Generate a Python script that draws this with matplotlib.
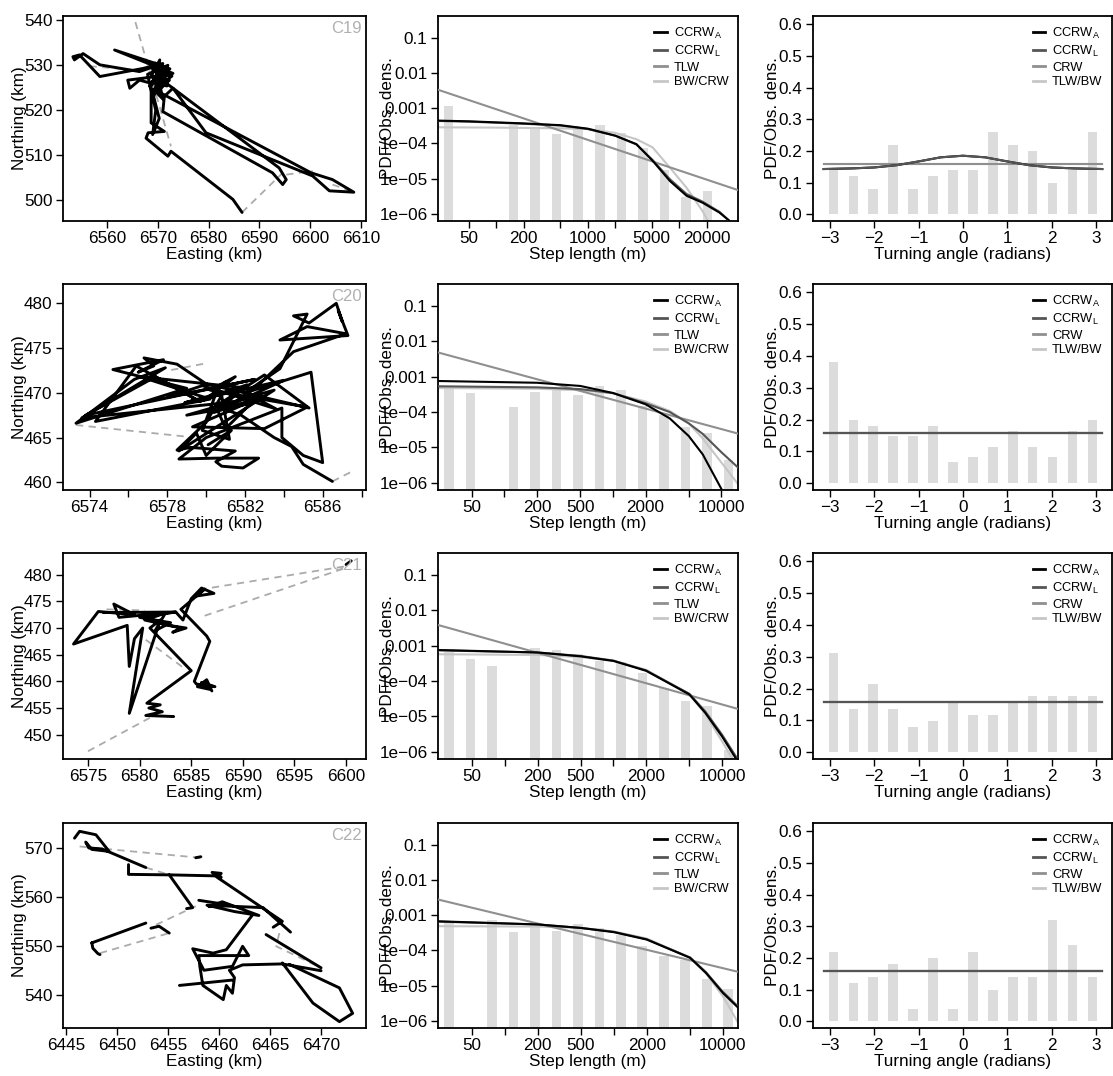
import numpy as np
import matplotlib
matplotlib.use('Agg')
import matplotlib.pyplot as plt
from matplotlib.ticker import NullLocator
from matplotlib.lines import Line2D

plt.rcParams['font.family'] = ['Liberation Sans', 'DejaVu Sans']
plt.rcParams['mathtext.default'] = 'regular'
plt.rcParams['axes.unicode_minus'] = True

NaN = np.nan
animals = ['C19', 'C20', 'C21', 'C22']

# ---------------- tracks (Easting km, Northing km) ----------------
c19_track = [(6586.6,497.3),(6584.8,500.2),(6572.6,510.9),(6572.0,509.8),(6567.7,513.8),(6568.1,515.0),
             (6571.3,515.3),(6568.7,517.2),(6568.7,521.6),(6568.7,526.0),(6566.4,526.7),(6564.5,524.9),
             (6564.1,526.7),(6569.7,527.5),(6573.0,528.2),(6561.5,533.4),(6570.4,530.1),(6566.4,528.6),
             (6558.6,530.1),(6555.3,532.6),(6553.6,531.2),(6553.3,531.9),(6554.6,532.3),(6558.6,527.5),
             (6567.1,529.3),(6571.0,530.4),(6568.4,525.3),(6572.0,528.6),(6569.4,523.8),(6570.4,531.2),
             (6568.7,527.5),(6572.3,526.7),(6570.0,524.2),(6600.2,506.1),(6604.4,504.6),(6608.6,501.8),
             (6603.8,502.1),(6600.5,505.4),(6579.5,515.0),(6573.0,524.9),(6571.3,523.1),(6571.0,519.7),
             (6592.6,506.1),(6594.6,503.5),(6595.3,504.6),(6593.9,507.2),(6571.7,526.0),(6569.7,528.6),
             (6571.7,529.7),(6569.0,529.0),(6571.5,527.2),(6569.5,530.5),(6572.4,529.2),(6568.9,526.3),
             (6571.8,525.4),(6570.0,528.0),(6572.8,527.6),(6569.2,524.6),(6571.0,522.5),(6570.2,526.8),
             (6572.0,530.0),(6568.0,528.0),(6569.6,520.0),(6569.0,514.6),(6570.3,518.2),(6569.2,523.0),
             (6570.9,528.9)]
c19_gaps = [[(6565.6,539.6),(6572.6,512.0)], [(6556.6,529.8),(6565.1,529.0)],
            [(6586.6,497.3),(6594.6,506.1)], [(6595.3,505.7),(6600.5,506.5)],
            [(6604.4,503.5),(6608.6,501.8)]]

c20_track = [(6586.5,460.1),(6585.0,462.0),(6584.4,464.0),(6583.5,465.0),(6581.8,467.5),(6580.5,468.5),
             (6583.0,472.0),(6585.3,468.3),(6580.0,471.0),(6578.5,473.2),(6576.8,473.9),(6577.3,473.0),
             (6576.5,472.3),(6577.8,473.7),(6575.2,472.6),(6579.0,470.5),(6573.3,466.6),(6576.3,471.5),
             (6577.9,472.8),(6573.6,467.2),(6581.5,469.0),(6582.5,470.5),(6584.5,474.6),(6587.2,476.6),
             (6585.2,477.4),(6583.8,475.9),(6587.3,476.4),(6586.8,479.2),(6587.0,478.0),(6586.7,480.0),
             (6585.3,477.8),(6584.5,478.6),(6585.2,478.8),(6583.8,472.7),(6582.0,470.0),(6585.4,472.3),
             (6586.0,462.2),(6585.0,463.0),(6583.9,465.0),(6583.9,468.3),(6580.0,465.0),(6578.6,462.6),
             (6580.5,462.7),(6582.7,462.7),(6581.9,461.6),(6580.8,461.8),(6580.5,462.3),(6581.5,463.5),
             (6579.2,463.9),(6578.5,463.6),(6580.0,466.7),(6580.8,469.7),(6581.2,464.8),(6579.8,465.8),
             (6580.6,470.5),(6581.0,471.2),(6583.6,468.2),(6579.8,470.8),(6578.0,469.5),(6582.5,471.5),
             (6573.8,467.5),(6577.4,471.8),(6579.7,469.0),(6576.4,473.0),(6574.3,466.8),(6580.2,469.3),
             (6576.6,471.8),(6581.8,470.6),(6578.9,468.9),(6584.0,471.4),(6580.4,467.8),(6582.9,469.6),
             (6579.3,466.2),(6583.0,466.0),(6585.2,468.4),(6580.2,470.3),(6581.5,471.8),(6579.9,469.2),
             (6582.1,470.9),(6580.6,468.0),(6581.0,466.0),(6582.3,468.8),(6579.0,467.5),(6583.5,470.3),
             (6578.6,463.5),(6579.5,465.5),(6580.0,463.0),(6581.3,465.8),(6580.1,464.2)]
c20_gaps = [[(6573.3,466.4),(6579.0,465.1)], [(6578.2,472.55),(6580.0,473.3)],
            [(6586.5,460.1),(6587.5,461.2)]]

c21_track = [(6600.0,481.9),(6600.5,482.6),(NaN,NaN),
             (6583.3,453.4),(6580.6,453.6),(6582.2,454.3),(6580.9,455.0),(6582.0,455.6),(6580.7,455.9),
             (6585.0,462.0),(6581.0,470.0),(6582.0,471.5),(6579.0,454.0),(6580.3,470.0),(6579.5,468.0),
             (6579.0,462.8),(6578.8,470.5),(6573.6,467.0),(6576.0,473.1),(6579.5,472.5),(6577.5,474.5),
             (6578.0,472.0),(6583.5,473.0),(6584.2,471.5),(6585.0,475.5),(6586.0,477.5),(6587.2,476.5),
             (6585.5,476.0),(6586.3,477.3),(6584.0,473.5),(6586.5,468.5),(6586.8,467.5),(6585.3,460.0),
             (6585.5,459.5),(6587.3,459.0),(6586.0,459.8),(6586.8,458.5),(6585.6,459.0),(6586.5,460.3),
             (6587.0,458.2),(NaN,NaN),
             (6576.5,472.9),(6583.5,473.0),(6580.0,472.0),(6583.0,471.0),(6581.5,469.5),(6582.5,472.8),
             (6580.5,471.5),(6584.0,470.0),(6583.2,469.2),(6584.5,470.0),(6582.8,470.5)]
c21_gaps = [[(6575.0,446.9),(6581.6,453.8)], [(6585.8,477.2),(6600.0,481.6)],
            [(6586.3,472.3),(6600.0,481.3)], [(6580.6,467.8),(6584.5,462.2)],
            [(6576.8,473.5),(6580.5,473.3)]]

c22_track = [(6445.8,572.0),(6446.3,573.4),(6447.9,572.7),(6449.2,569.3),(6447.5,569.7),(6446.9,571.2),
             (6447.2,570.0),(6448.5,569.8),(6452.8,566.0),(NaN,NaN),
             (6451.1,566.6),(6451.1,564.6),(6455.1,564.5),(6457.4,557.8),(6456.8,557.6),(NaN,NaN),
             (6455.1,564.5),(6459.5,564.3),(6460.2,564.0),(6459.3,565.0),(6460.2,564.8),(6459.8,564.0),
             (6466.2,555.0),(6465.3,553.8),(NaN,NaN),
             (6458.0,559.3),(6460.5,558.5),(6459.0,558.0),(6460.3,559.0),(6463.9,556.2),(6461.5,557.0),
             (6458.8,558.3),(6464.3,557.8),(6467.0,552.8),(NaN,NaN),
             (6463.3,556.4),(6460.7,549.2),(6459.4,548.5),(6457.4,549.4),(6458.5,545.0),(6461.3,545.8),
             (6462.3,549.9),(6462.9,548.0),(6461.3,548.0),(6458.0,548.0),(6458.1,545.8),(6458.4,541.9),
             (6460.4,539.0),(6460.7,541.9),(6461.3,540.3),(6461.5,543.5),(6461.0,545.0),(6462.3,546.1),
             (6466.2,546.3),(6470.0,544.9),(NaN,NaN),
             (6456.1,541.9),(6461.3,543.0),(NaN,NaN),
             (6466.2,546.5),(6469.2,538.3),(6471.8,534.5),(6473.1,536.2),(6471.8,541.4),(6466.9,546.2),(NaN,NaN),
             (6447.5,550.6),(6452.8,554.65),(NaN,NaN),
             (6447.5,550.6),(6447.6,549.5),(6448.1,548.4),(6448.3,548.2),(NaN,NaN),
             (6453.3,553.6),(6454.1,554.0),(6455.1,552.6),(NaN,NaN),
             (6457.7,568.0),(6458.2,568.2),(NaN,NaN),
             (6464.6,552.3),(6470.0,545.5)]
c22_gaps = [[(6446.3,570.3),(6458.1,568.0)], [(6448.3,548.5),(6455.1,552.6)],
            [(6453.8,554.3),(6457.7,558.1)], [(6465.9,552.6),(6465.6,549.9),(6470.0,545.5)],
            [(6452.8,566.0),(6455.1,564.5)]]

# ---------------- step-length histograms (bin centres in m, density) ----------------
c19_step_bins = [30.1, 51.9, 89.3, 153.8, 264.9, 456.0, 785.2, 1352, 2328, 4009, 6902, 11885, 20464]
c19_step_dens = [1.16e-3, 0, 0, 3.3e-4, 2.8e-4, 1.9e-4, 2.9e-4, 3.3e-4, 2.0e-4, 7.2e-5, 1.7e-5, 3.0e-6, 4.4e-6]
c20_step_bins = [30.9, 48.8, 76.9, 121.3, 191.4, 302.0, 476.4, 751.6, 1186, 1871, 2951, 4656, 7345, 11588]
c20_step_dens = [4.8e-4, 3.5e-4, 0, 1.4e-4, 3.6e-4, 4.3e-4, 3.1e-4, 5.6e-4, 4.3e-4, 1.5e-4, 8.3e-5, 3.8e-5, 2.5e-5, 4.4e-6]
c21_step_bins = [30.6, 48.3, 76.2, 120.2, 189.7, 299.2, 472.1, 744.7, 1175, 1854, 2924, 4613, 7278, 11482]
c21_step_dens = [6.5e-4, 4.2e-4, 2.7e-4, 0, 8.4e-4, 7.6e-4, 5.8e-4, 3.7e-4, 3.5e-4, 1.7e-4, 6.5e-5, 2.8e-5, 2.0e-5, 1.1e-6]
c22_step_bins = [30.8, 48.4, 76.2, 119.9, 188.8, 297.2, 467.7, 736.2, 1159, 1824, 2871, 4519, 7112, 11194]
c22_step_dens = [6.0e-4, 0, 7.6e-4, 3.3e-4, 4.7e-4, 3.5e-4, 5.8e-4, 4.4e-4, 2.8e-4, 1.3e-4, 6.9e-5, 5.2e-5, 1.5e-5, 8.1e-6]

# ---------------- fitted step-length PDFs (x in m, log10 density) ----------------
c19_ccrw_x = [23, 50, 100, 200, 500, 1000, 2000, 3400, 5100, 7900, 12000, 18000, 27500, 35500]
c19_ccrwa_y = [-3.35, -3.37, -3.40, -3.43, -3.48, -3.58, -3.78, -4.02, -4.49, -5.07, -5.49, -5.69, -5.97, -6.21]
c19_ccrwl_y = [-3.36, -3.38, -3.41, -3.44, -3.49, -3.59, -3.78, -4.03, -4.47, -5.02, -5.44, -5.66, -5.95, -6.21]
c19_bw_x = [23, 100, 500, 1000, 2000, 3400, 5100, 7900, 12000, 18000, 21000]
c19_bw_y = [-3.54, -3.55, -3.57, -3.59, -3.70, -3.88, -4.11, -4.69, -5.26, -5.93, -6.25]
c19_tlw_x = [23, 43900]
c19_tlw_y = [-2.47, -5.33]

c20_ccrw_x = [24.4, 200, 500, 1000, 2000, 3340, 5000, 6730, 10000, 14200]
c20_ccrwa_y = [-3.12, -3.17, -3.26, -3.46, -3.78, -4.18, -4.68, -5.20, -6.18, NaN]
c20_ccrwl_y = [-3.27, -3.30, -3.35, -3.46, -3.75, -4.00, -4.32, -4.62, -5.14, -5.57]
c20_bw_x = [24.4, 200, 500, 1000, 2000, 3340, 5000, 6730, 10000, 14200]
c20_bw_y = [-3.32, -3.34, -3.38, -3.47, -3.70, -3.97, -4.32, -4.75, -5.43, -6.04]
c20_tlw_x = [24.4, 14200]
c20_tlw_y = [-2.31, -4.61]

c21_ccrw_x = [24.2, 200, 500, 1000, 2000, 5000, 7000, 10000, 13500]
c21_ccrwa_y = [-3.12, -3.19, -3.30, -3.43, -3.71, -4.38, -4.90, -5.57, -6.21]
c21_ccrwl_y = [-3.13, -3.19, -3.29, -3.42, -3.70, -4.36, -4.86, -5.52, -6.15]
c21_bw_x = [24.2, 200, 500, 1000, 2000, 5000, 7000, 10000, 13000]
c21_bw_y = [-3.24, -3.26, -3.32, -3.43, -3.68, -4.38, -4.92, -5.71, -6.30]
c21_tlw_x = [24.2, 14000]
c21_tlw_y = [-2.41, -4.79]

c22_ccrw_x = [24.4, 200, 500, 1000, 2000, 5000, 7000, 10000, 13800]
c22_ccrwa_y = [-3.17, -3.26, -3.36, -3.48, -3.69, -4.21, -4.64, -5.21, -5.63]
c22_ccrwl_y = [-3.18, -3.26, -3.36, -3.47, -3.68, -4.20, -4.62, -5.18, -5.60]
c22_bw_x = [24.4, 200, 500, 1000, 2000, 5000, 7000, 10000, 13800]
c22_bw_y = [-3.31, -3.32, -3.36, -3.46, -3.66, -4.21, -4.66, -5.30, -6.06]
c22_tlw_x = [24.4, 13800]
c22_tlw_y = [-2.55, -4.61]

# ---------------- turning angles ----------------
angle_bins = [-2.918, -2.469, -2.020, -1.571, -1.122, -0.673, -0.224, 0.224, 0.673, 1.122, 1.571, 2.020, 2.469, 2.918]
c19_turn = [0.14, 0.12, 0.08, 0.22, 0.08, 0.12, 0.14, 0.14, 0.26, 0.22, 0.20, 0.10, 0.14, 0.26]
c20_turn = [0.38, 0.198, 0.181, 0.148, 0.148, 0.181, 0.066, 0.082, 0.115, 0.165, 0.115, 0.082, 0.165, 0.198]
c21_turn = [0.313, 0.137, 0.215, 0.137, 0.078, 0.098, 0.157, 0.118, 0.118, 0.157, 0.176, 0.176, 0.176, 0.176]
c22_turn = [0.22, 0.12, 0.14, 0.18, 0.04, 0.20, 0.04, 0.22, 0.10, 0.14, 0.14, 0.32, 0.24, 0.14]

uniform_x = [-3.1416, 3.1416]
uniform_y = [0.159, 0.159]
c19_ccrw_turn_x = [-3.1416, -2.5, -2.0, -1.5, -1.0, -0.5, 0.0, 0.5, 1.0, 1.5, 2.0, 2.5, 3.1416]
c19_ccrw_turn_y = [0.143, 0.145, 0.148, 0.155, 0.167, 0.180, 0.185, 0.180, 0.167, 0.155, 0.148, 0.145, 0.143]

# ---------------- layout / styles ----------------
W, H = 1113, 1076
fig = plt.figure(figsize=(W / 100, H / 100), dpi=100)

col_px = [(63, 366), (438, 738), (813, 1112)]
row_px = [(16, 221), (284, 490), (553, 759), (823, 1028)]

C_A, C_L, C_MID, C_LIGHT = '#000000', '#555555', '#8f8f8f', '#c6c6c6'
BAR = '#dcdcdc'
FS = 12.3

def px_axes(col, row):
    l, r = col_px[col]
    t, b = row_px[row]
    return fig.add_axes([l / W, 1 - b / H, (r - l) / W, (b - t) / H])

def style(ax):
    for s in ax.spines.values():
        s.set_linewidth(1.3)
    ax.tick_params(direction='out', length=5, width=1.0, labelsize=FS, pad=2.5)
    ax.xaxis.set_minor_locator(NullLocator())
    ax.yaxis.set_minor_locator(NullLocator())

tracks = [c19_track, c20_track, c21_track, c22_track]
gaps = [c19_gaps, c20_gaps, c21_gaps, c22_gaps]
map_xlim = [(6551.35, 6611.0), (6572.63, 6588.23), (6572.58, 6601.93), (6444.67, 6474.41)]
map_ylim = [(495.4, 540.95), (459.14, 482.16), (445.44, 484.07), (533.2, 575.1)]
map_xticks = [list(range(6560, 6611, 10)), list(range(6574, 6589, 2)),
              list(range(6575, 6601, 5)), list(range(6445, 6471, 5))]
map_xlabels = [[str(v) for v in map_xticks[0]],
               [str(v) if (v - 6574) % 4 == 0 else '' for v in map_xticks[1]],
               [str(v) for v in map_xticks[2]], [str(v) for v in map_xticks[3]]]
map_yticks = [list(range(500, 541, 10)), list(range(460, 481, 5)),
              list(range(450, 481, 5)), list(range(540, 571, 10))]

step_bins = [c19_step_bins, c20_step_bins, c21_step_bins, c22_step_bins]
step_dens = [c19_step_dens, c20_step_dens, c21_step_dens, c22_step_dens]
step_hw = [0.052, 0.044, 0.044, 0.044]
step_xlim = [(10 ** 1.363, 10 ** 4.642), (10 ** 1.388, 10 ** 4.153),
             (10 ** 1.384, 10 ** 4.147), (10 ** 1.387, 10 ** 4.139)]
ccrw_x = [c19_ccrw_x, c20_ccrw_x, c21_ccrw_x, c22_ccrw_x]
ccrwa_y = [c19_ccrwa_y, c20_ccrwa_y, c21_ccrwa_y, c22_ccrwa_y]
ccrwl_y = [c19_ccrwl_y, c20_ccrwl_y, c21_ccrwl_y, c22_ccrwl_y]
bw_x = [c19_bw_x, c20_bw_x, c21_bw_x, c22_bw_x]
bw_y = [c19_bw_y, c20_bw_y, c21_bw_y, c22_bw_y]
tlw_x = [c19_tlw_x, c20_tlw_x, c21_tlw_x, c22_tlw_x]
tlw_y = [c19_tlw_y, c20_tlw_y, c21_tlw_y, c22_tlw_y]
step_ticks = [[50, 100, 200, 500, 1000, 2000, 5000, 10000, 20000],
              [50, 100, 200, 500, 1000, 2000, 5000, 10000]]
step_tick_labels = [['50', '', '200', '', '1000', '', '5000', '', '20000'],
                    ['50', '', '200', '500', '', '2000', '', '10000']]

turns = [c19_turn, c20_turn, c21_turn, c22_turn]

def legend(ax, labels):
    handles = [Line2D([], [], color=c, lw=2) for c in (C_A, C_L, C_MID, C_LIGHT)]
    ax.legend(handles, labels, loc='upper right', frameon=False, fontsize=9.3,
              handlelength=0.95, handletextpad=0.55, labelspacing=0.22,
              borderaxespad=0.45, borderpad=0.3)

XL_Y = -0.125

for i in range(4):
    # ---- map ----
    ax = px_axes(0, i)
    style(ax)
    for g in gaps[i]:
        ga = np.array(g, dtype=float)
        ax.plot(ga[:, 0], ga[:, 1], color='#ababab', lw=1.3, ls=(0, (4, 3)), zorder=1)
    tr = np.array(tracks[i], dtype=float)
    ax.plot(tr[:, 0], tr[:, 1], color='black', lw=2.1, solid_joinstyle='round',
            solid_capstyle='round', zorder=2)
    ax.set_xlim(*map_xlim[i])
    ax.set_ylim(*map_ylim[i])
    ax.set_xticks(map_xticks[i])
    ax.set_xticklabels(map_xlabels[i])
    ax.set_yticks(map_yticks[i])
    ax.set_xlabel('Easting (km)', fontsize=FS)
    ax.set_ylabel('Northing (km)', fontsize=FS)
    ax.xaxis.set_label_coords(0.5, XL_Y)
    ax.yaxis.set_label_coords(-0.12, 0.5)
    ax.text(0.985, 0.975, animals[i], transform=ax.transAxes, ha='right', va='top',
            color='#b0b0b0', fontsize=12, zorder=3)

    # ---- step length ----
    ax = px_axes(1, i)
    style(ax)
    ax.set_xscale('log')
    ax.set_yscale('log')
    hw = step_hw[i]
    for c, d in zip(step_bins[i], step_dens[i]):
        if d > 0:
            lo, hi = c * 10 ** (-hw), c * 10 ** hw
            ax.bar(lo, d - 1e-8, width=hi - lo, bottom=1e-8, align='edge',
                   color=BAR, lw=0, zorder=1)
    ax.plot(bw_x[i], 10 ** np.array(bw_y[i]), color=C_LIGHT, lw=1.5, zorder=2)
    ax.plot(tlw_x[i], 10 ** np.array(tlw_y[i]), color=C_MID, lw=1.5, zorder=3)
    ax.plot(ccrw_x[i], 10 ** np.array(ccrwl_y[i]), color=C_L, lw=1.5, zorder=4)
    ax.plot(ccrw_x[i], 10 ** np.array(ccrwa_y[i]), color=C_A, lw=1.5, zorder=5)
    ax.set_xlim(*step_xlim[i])
    ax.set_ylim(10 ** -6.21, 10 ** -0.37)
    k = 0 if i == 0 else 1
    ax.set_xticks(step_ticks[k])
    ax.set_xticklabels(step_tick_labels[k])
    ax.xaxis.set_minor_locator(NullLocator())
    ax.set_yticks([1e-6, 1e-5, 1e-4, 1e-3, 1e-2, 1e-1])
    ax.set_yticklabels(['1e\u221206', '1e\u221205', '1e\u221204', '0.001', '0.01', '0.1'])
    ax.yaxis.set_minor_locator(NullLocator())
    ax.set_xlabel('Step length (m)', fontsize=FS)
    ax.set_ylabel('PDF/Obs. dens.', fontsize=FS)
    ax.xaxis.set_label_coords(0.5, XL_Y)
    ax.yaxis.set_label_coords(-0.143, 0.5)
    legend(ax, ['CCRW$_A$', 'CCRW$_L$', 'TLW', 'BW/CRW'])

    # ---- turning angle ----
    ax = px_axes(2, i)
    style(ax)
    ax.bar(angle_bins, turns[i], width=0.218, color=BAR, lw=0, zorder=1)
    ax.plot(uniform_x, uniform_y, color=C_LIGHT, lw=1.5, zorder=2)
    ax.plot(uniform_x, uniform_y, color=C_MID, lw=1.5, zorder=3)
    if i == 0:
        ax.plot(c19_ccrw_turn_x, c19_ccrw_turn_y, color=C_A, lw=1.5, zorder=4)
        ax.plot(c19_ccrw_turn_x, c19_ccrw_turn_y, color=C_L, lw=1.5, zorder=5)
    else:
        ax.plot(uniform_x, uniform_y, color=C_A, lw=1.5, zorder=4)
        ax.plot(uniform_x, uniform_y, color=C_L, lw=1.5, zorder=5)
    ax.set_xlim(-3.38, 3.36)
    ax.set_ylim(-0.021, 0.626)
    ax.set_xticks([-3, -2, -1, 0, 1, 2, 3])
    ax.set_yticks([0.0, 0.1, 0.2, 0.3, 0.4, 0.5, 0.6])
    ax.set_yticklabels(['0.0', '0.1', '0.2', '0.3', '0.4', '0.5', '0.6'])
    ax.set_xlabel('Turning angle (radians)', fontsize=FS)
    ax.set_ylabel('PDF/Obs. dens.', fontsize=FS)
    ax.xaxis.set_label_coords(0.5, XL_Y)
    ax.yaxis.set_label_coords(-0.11, 0.5)
    legend(ax, ['CCRW$_A$', 'CCRW$_L$', 'CRW', 'TLW/BW'])

fig.savefig('out.png', dpi=100)
